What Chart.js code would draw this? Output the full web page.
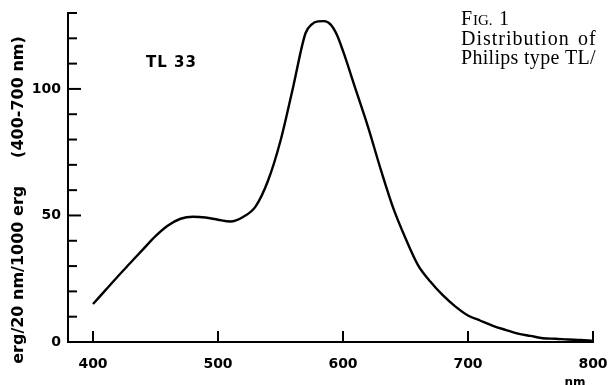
<!DOCTYPE html>
<html lang="en">
  <head>
    <meta charset="UTF-8" />
    <title>TL 33 spectral distribution</title>
    <script src="https://cdn.jsdelivr.net/npm/chart.js"></script>
    <style>
      body {
        margin: 0;
        padding: 0;
        background: #fff;
      }
      .wrap {
        width: 609px;
        height: 385px;
      }
    </style>
  </head>
  <body>
    <div class="wrap">
      <canvas id="spectrum" width="609" height="385"></canvas>
    </div>

    <script>
      // values
      const wavelengths = [400, 410, 420, 430, 440, 450, 460, 470, 480, 490, 500, 510, 520, 530, 540, 550, 560, 570, 575, 580, 585, 590, 595, 600, 610, 620, 630, 640, 650, 660, 670, 680, 690, 700, 710, 720, 730, 740, 750, 760, 770, 780, 790, 800];
      const energy = [15, 20.5, 26, 31.3, 36.6, 41.8, 46, 48.7, 49.5, 49.2, 48.3, 47.6, 49.4, 53.5, 63.7, 79.5, 100.5, 122, 125.5, 126.7, 126.8, 125.5, 121.5, 115, 100, 85, 68.5, 53.2, 41, 30.4, 23.8, 18.4, 14, 10.5, 8.4, 6.4, 4.8, 3.3, 2.4, 1.5, 1.3, 1.0, 0.8, 0.5];

      // axis ticks
      const xTicks = [400, 500, 600, 700, 800];
      const yTicks = [0, 10, 20, 30, 40, 50, 60, 70, 80, 90, 100, 110, 120, 130];
      const yLabels = [0, 50, 100];

      const tickFont = { family: 'DejaVu Sans', size: 14, weight: 'bold' };

      // short tick marks drawn inside the plot, like the printed figure
      const inwardTicks = {
        id: 'inwardTicks',
        afterDatasetsDraw(chart) {
          const { ctx, scales: { x, y } } = chart;
          ctx.save();
          ctx.strokeStyle = '#000';
          ctx.lineWidth = 2;
          xTicks.forEach(v => {
            const px = x.getPixelForValue(v);
            ctx.beginPath();
            ctx.moveTo(px, y.bottom);
            ctx.lineTo(px, y.bottom - 11);
            ctx.stroke();
          });
          yTicks.forEach(v => {
            const py = y.getPixelForValue(v);
            const len = yLabels.includes(v) ? 13 : 9;
            ctx.beginPath();
            ctx.moveTo(x.left, py);
            ctx.lineTo(x.left + len, py);
            ctx.stroke();
          });
          ctx.restore();
        }
      };

      // titles and captions
      const captions = {
        id: 'captions',
        beforeDraw(chart) {
          const ctx = chart.ctx;
          ctx.save();
          ctx.fillStyle = '#fff';
          ctx.fillRect(0, 0, chart.width, chart.height);
          ctx.restore();
        },
        afterDraw(chart) {
          const ctx = chart.ctx;
          ctx.save();
          ctx.fillStyle = '#000';

          // y axis title
          ctx.save();
          ctx.translate(19, 200);
          ctx.rotate(-Math.PI / 2);
          ctx.font = 'bold 16px "DejaVu Sans"';
          ctx.textAlign = 'center';
          ctx.textBaseline = 'middle';
          ctx.fillText('erg/20 nm/1000 erg     (400-700 nm)', 0, 0);
          ctx.restore();

          // series name
          ctx.font = 'bold 15px "DejaVu Sans"';
          ctx.letterSpacing = '1px';
          ctx.textBaseline = 'alphabetic';
          ctx.fillText('TL 33', 146, 67);

          // unit
          ctx.letterSpacing = '0px';
          ctx.font = 'bold 12px "DejaVu Sans"';
          ctx.textAlign = 'center';
          ctx.fillText('nm', 575, 386);

          // figure caption
          ctx.textAlign = 'left';
          ctx.font = '20px "Liberation Serif"';
          ctx.fillText('F', 461, 25);
          ctx.font = '15px "Liberation Serif"';
          ctx.fillText('IG.', 473, 25);
          ctx.font = '20px "Liberation Serif"';
          ctx.fillText('1', 499, 25);
          ctx.letterSpacing = '1px';
          ctx.fillText('Distribution', 461, 45);
          ctx.fillText('of', 578, 45);
          ctx.letterSpacing = '0.3px';
          ctx.fillText('Philips type TL/', 461, 64);
          ctx.restore();
        }
      };

      new Chart(document.getElementById('spectrum'), {
        type: 'line',
        data: {
          datasets: [{
            data: wavelengths.map((w, i) => ({ x: w, y: energy[i] })),
            borderColor: '#000',
            borderWidth: 2.4,
            pointRadius: 0,
            fill: false,
            cubicInterpolationMode: 'monotone'
          }]
        },
        options: {
          responsive: false,
          animation: false,
          layout: { padding: { top: 13, right: 16, left: 0, bottom: 0 } },
          plugins: {
            legend: { display: false },
            tooltip: { enabled: false }
          },
          scales: {
            x: {
              type: 'linear',
              min: 380,
              max: 800,
              afterBuildTicks: scale => { scale.ticks = xTicks.map(v => ({ value: v })); },
              afterFit: scale => {
                scale.height = 43;
                scale.paddingLeft = 0;
                scale.paddingRight = 0;
              },
              grid: { display: false, drawTicks: false, tickLength: 0 },
              border: { display: true, color: '#000', width: 2 },
              ticks: { color: '#000', font: tickFont, padding: 14, maxRotation: 0, autoSkip: false }
            },
            y: {
              min: 0,
              max: 130,
              afterBuildTicks: scale => { scale.ticks = yTicks.map(v => ({ value: v })); },
              afterFit: scale => {
                scale.width = 68;
                scale.paddingTop = 0;
                scale.paddingBottom = 0;
              },
              grid: { display: false, drawTicks: false, tickLength: 0 },
              border: { display: true, color: '#000', width: 2 },
              ticks: {
                color: '#000',
                font: tickFont,
                padding: 7,
                autoSkip: false,
                callback: v => (yLabels.includes(v) ? String(v) : '')
              }
            }
          }
        },
        plugins: [inwardTicks, captions]
      });
    </script>
  </body>
</html>
